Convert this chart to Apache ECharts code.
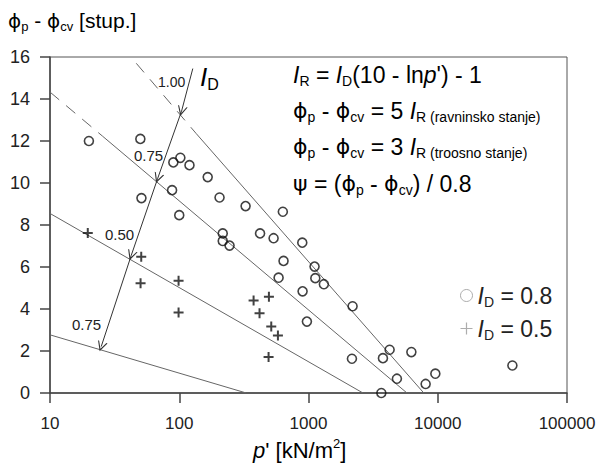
<!DOCTYPE html>
<html>
<head>
<meta charset="utf-8">
<script src="https://cdn.jsdelivr.net/npm/echarts@6/dist/echarts.min.js"></script>
<style>
html,body{margin:0;padding:0;background:#fff;}
#chart{width:599px;height:465px;}
</style>
</head>
<body>
<div id="chart"></div>
<script>
// ---- data ----
const xTicks = [10, 100, 1000, 10000, 100000];
const yTicks = [0, 2, 4, 6, 8, 10, 12, 14, 16];

// I_D = 0.8 (circles)
const circleP = [20, 50, 102, 90, 120, 166, 88, 51, 205, 100, 326, 633, 217, 422, 537, 217, 245, 895, 641, 1114, 587, 1129, 1315, 900, 972, 2193, 4243, 3767, 2168, 6250, 4831, 9580, 8060, 3660, 37800];
const circlePhi = [12.0, 12.1, 11.2, 10.98, 10.85, 10.28, 9.66, 9.28, 9.31, 8.47, 8.9, 8.63, 7.6, 7.6, 7.37, 7.24, 7.02, 7.16, 6.29, 6.02, 5.49, 5.47, 5.18, 4.84, 3.4, 4.13, 2.06, 1.66, 1.63, 1.95, 0.68, 0.92, 0.43, 0.0, 1.31];

// I_D = 0.5 (plus)
const plusP = [19.6, 50.8, 50.2, 98.8, 98.8, 376, 494, 418, 515, 580, 491];
const plusPhi = [7.62, 6.49, 5.23, 5.35, 3.83, 4.4, 4.58, 3.8, 3.17, 2.74, 1.71];

// reference lines (endpoints)
const lineA_dashP = [46.5, 135];   const lineA_dashPhi = [15.7, 12.36];
const lineA_P = [135, 7800];       const lineA_Phi = [12.36, 0];
const lineB_dashP = [10, 25.5];    const lineB_dashPhi = [14.33, 12.23];
const lineB_P = [25.5, 5780];      const lineB_Phi = [12.23, 0];
const lineC_P = [10, 2640];        const lineC_Phi = [8.55, 0];
const lineD_P = [10, 330];         const lineD_Phi = [2.77, 0];

// I_D arrow path vertices
const arrowP = [127.3, 104.2, 68.2, 42.5, 24.9];
const arrowPhi = [15.45, 13.42, 10.23, 6.55, 2.21];

const zip = (a, b) => a.map((v, i) => [v, b[i]]);
const FONT = 'Liberation Sans, Arial, sans-serif';
const PHIFONT = 'DejaVu Sans, Liberation Sans, sans-serif';
const TXT = '#222';
const LINEC = '#666';

const arrowSegs = [];
for (let i = 0; i < arrowP.length - 1; i++) {
  arrowSegs.push({coords: [[arrowP[i], arrowPhi[i]], [arrowP[i + 1], arrowPhi[i + 1]]]});
}

function lineSeries(px, py, dashed) {
  return {
    type: 'line', data: zip(px, py), symbol: 'none', silent: true,
    lineStyle: {color: LINEC, width: 1, type: dashed ? [12, 9] : 'solid'},
    z: 1
  };
}

const mainRich = (fs) => ({
  a: {fontSize: fs, fontFamily: FONT, color: TXT, lineHeight: fs + 4},
  f: {fontSize: fs - 1, fontFamily: PHIFONT, color: TXT, lineHeight: fs + 4},
  i: {fontSize: fs, fontFamily: FONT, fontStyle: 'italic', color: TXT, lineHeight: fs + 4},
  s: {fontSize: Math.round(fs * 0.62), fontFamily: FONT, color: TXT, lineHeight: Math.round(fs * 0.62), verticalAlign: 'bottom'},
  m: {fontSize: Math.round(fs * 0.6), fontFamily: FONT, color: TXT, lineHeight: Math.round(fs * 0.6) + 1, verticalAlign: 'bottom'}
});

const chart = echarts.init(document.getElementById('chart'), null, {renderer: 'svg'});
const option = {
  animation: false,
  backgroundColor: '#fff',
  grid: {left: 50, right: 32, top: 57, bottom: 72, show: true, borderColor: '#555', borderWidth: 1},
  xAxis: {
    type: 'log', logBase: 10, min: xTicks[0], max: xTicks[xTicks.length - 1],
    axisLine: {show: true, lineStyle: {color: '#444', width: 1.5}},
    axisTick: {show: true, length: 10, lineStyle: {color: '#444', width: 1.5}},
    axisLabel: {color: TXT, fontSize: 17, fontFamily: FONT, margin: 22,
      formatter: v => String(Math.round(v))},
    splitLine: {show: false}, minorTick: {show: false}
  },
  yAxis: {
    type: 'value', min: yTicks[0], max: yTicks[yTicks.length - 1], interval: 2,
    axisLine: {show: true, lineStyle: {color: '#444', width: 1.5}},
    axisTick: {show: true, length: 10, lineStyle: {color: '#444', width: 1.5}},
    axisLabel: {color: TXT, fontSize: 18, fontFamily: FONT, margin: 20},
    splitLine: {show: false}
  },
  legend: {
    orient: 'vertical', left: 455, top: 279, itemGap: 8, itemWidth: 12, itemHeight: 12,
    selectedMode: false,
    data: [
      {name: 'ID = 0.8', icon: 'circle', itemStyle: {color: 'rgba(0,0,0,0)', borderColor: '#999', borderWidth: 1}},
      {name: 'ID = 0.5', icon: 'path://M4.5,0H5.5V4.5H10V5.5H5.5V10H4.5V5.5H0V4.5H4.5Z', itemStyle: {color: '#999', borderWidth: 0}}
    ],
    formatter: n => n === 'ID = 0.8' ? '{i|I}{s|D}{a| = 0.8}' : '{i|I}{s|D}{a| = 0.5}',
    textStyle: {rich: mainRich(23)}
  },
  series: [
    lineSeries(lineA_dashP, lineA_dashPhi, true),
    lineSeries(lineA_P, lineA_Phi, false),
    lineSeries(lineB_dashP, lineB_dashPhi, true),
    lineSeries(lineB_P, lineB_Phi, false),
    lineSeries(lineC_P, lineC_Phi, false),
    lineSeries(lineD_P, lineD_Phi, false),
    {
      type: 'lines', coordinateSystem: 'cartesian2d', silent: true,
      symbol: ['none', 'path://M0,10L5,0L10,10L8.8,10L5,2.6L1.2,10Z'], symbolSize: 10,
      lineStyle: {color: '#333', width: 1, opacity: 1},
      data: arrowSegs, z: 3
    },
    {
      name: 'ID = 0.8', type: 'scatter', data: zip(circleP, circlePhi), clip: false,
      symbol: 'circle', symbolSize: 9,
      itemStyle: {color: 'rgba(255,255,255,0)', borderColor: '#111', borderWidth: 1.6}, z: 4
    },
    {
      name: 'ID = 0.5', type: 'scatter', data: zip(plusP, plusPhi), clip: false,
      symbol: 'path://M4,0H6V4H10V6H6V10H4V6H0V4H4Z', symbolSize: 10,
      itemStyle: {color: '#111'}, z: 4
    }
  ],
  graphic: [
    {type: 'text', left: 8, top: 10, style: {text: '{f|ϕ}{s|p}{a| - }{f|ϕ}{s|cv}{a| [stup.]}', rich: mainRich(21)}},
    {type: 'text', left: 253, top: 437, style: {text: '{i|p}{a|\' [kN/m}{u|2}{a|]}', rich: Object.assign(mainRich(22), {u: {fontSize: 13, fontFamily: FONT, color: TXT, lineHeight: 26, verticalAlign: 'top'}})}},
    {type: 'text', left: 293, top: 63, style: {text: '{i|I}{s|R}{a| = }{i|I}{s|D}{a|(10 - ln}{i|p}{a|\') - 1}', rich: mainRich(23)}},
    {type: 'text', left: 293, top: 99, style: {text: '{f|ϕ}{s|p}{a| - }{f|ϕ}{s|cv}{a| = 5 }{i|I}{s|R}{m| (ravninsko stanje)}', rich: mainRich(23)}},
    {type: 'text', left: 293, top: 135, style: {text: '{f|ϕ}{s|p}{a| - }{f|ϕ}{s|cv}{a| = 3 }{i|I}{s|R}{m| (troosno stanje)}', rich: mainRich(23)}},
    {type: 'text', left: 293, top: 172, style: {text: '{f|ψ}{a| = (}{f|ϕ}{s|p}{a| - }{f|ϕ}{s|cv}{a|) / 0.8}', rich: mainRich(23)}},
    {type: 'text', left: 200, top: 64, style: {text: '{i|I}{s|D}', rich: mainRich(26)}},
    {type: 'text', left: 158, top: 75, style: {text: '1.00', font: '14px ' + FONT, fill: TXT}},
    {type: 'text', left: 134, top: 148, style: {text: '0.75', font: '15px ' + FONT, fill: TXT}},
    {type: 'text', left: 105, top: 227, style: {text: '0.50', font: '15px ' + FONT, fill: TXT}},
    {type: 'text', left: 72, top: 317, style: {text: '0.75', font: '15px ' + FONT, fill: TXT}}
  ]
};
chart.setOption(option);
</script>
</body>
</html>
